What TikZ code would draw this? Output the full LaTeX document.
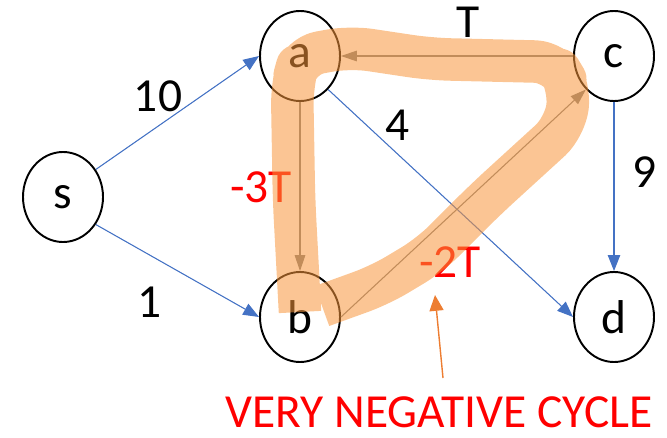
\documentclass[tikz,border=0pt]{standalone}
\usepackage{fontspec}
\setmainfont{Carlito}
\usetikzlibrary{arrows.meta,shapes.geometric,positioning}
\definecolor{edgeblue}{RGB}{68,114,196}
\definecolor{cyclegray}{RGB}{128,128,128}
\definecolor{markorange}{RGB}{237,125,49}
\definecolor{hilite}{RGB}{248,150,60}

\begin{document}
\begin{tikzpicture}[
    vertex/.style={draw,ellipse,line width=1.1pt,minimum width=1.6cm,minimum height=1.8cm,inner sep=0pt,font=\fontsize{27}{32}\selectfont},
    weight/.style={font=\fontsize{27}{32}\selectfont},
    negweight/.style={weight,text=red},
    blueedge/.style={draw=edgeblue,line width=0.6pt,-{Triangle[length=9pt,width=7pt]},fill=edgeblue},
    grayedge/.style={draw=cyclegray,line width=0.6pt,-{Triangle[length=9pt,width=6pt]},fill=cyclegray}]
      \useasboundingbox (0,0) rectangle (13.34,8.74);
      % Vertices
      \node[vertex] (s) at (1.26,4.8) {s};
      \node[vertex] (a) at (6.0,7.62) {a};
      \node[vertex] (c) at (12.28,7.62) {c};
      \node[vertex] (b) at (6.0,2.4) {b};
      \node[vertex] (d) at (12.28,2.4) {d};
      % Positive edges
      \draw[blueedge] (s.40) -- (a.west);
      \draw[blueedge] (s.-40) -- (b.west);
      \draw[blueedge] (a.-50) -- (d.west);
      \draw[blueedge] (c.south) -- (d.north);
      \node[weight] (w10) at (3.16,6.82) {10};
      \node[weight] (w1) at (3.0,2.7) {1};
      \node[weight] (w4) at (7.96,6.24) {4};
      \node[weight] (w9) at (12.9,5.3) {9};
      % Cycle edges
      \draw[grayedge] (c.west) -- (a.east);
      \draw[grayedge] (a.south) -- (b.north);
      \draw[grayedge] (b.east) -- (c.-130);
      \node[weight] (wT) at (9.36,8.3) {T};
      \node[negweight] (w3T) at (5.22,5.0) {-3T};
      \node[negweight] (w2T) at (9.0,3.5) {-2T};
      % Highlight of the cycle
      \draw[hilite,opacity=0.55,line width=0.85cm,rounded corners=0.4cm,line join=round]
        (6.0,2.5) -- (5.88,4.74) -- (5.84,7.04) -- (6.0,7.62) -- (7.0,7.8) -- (8.6,7.56)
        -- (11.1,7.5) -- (11.4,7.0) -- (11.3,6.2) -- (9.7,4.74) -- (8.6,3.64)
        -- (7.6,3.04) -- (6.44,2.62);
      % Caption
      \node[text=red,font=\fontsize{27}{32}\selectfont] (note) at (8.78,0.5) {VERY NEGATIVE CYCLE};
      \coordinate (tail) at (8.86,1.18);
      \coordinate (head) at (8.7,2.84);
      \draw[markorange,line width=0.8pt,-{Triangle[length=9pt,width=8pt]}] (tail) -- (head);
\end{tikzpicture}
\end{document}
